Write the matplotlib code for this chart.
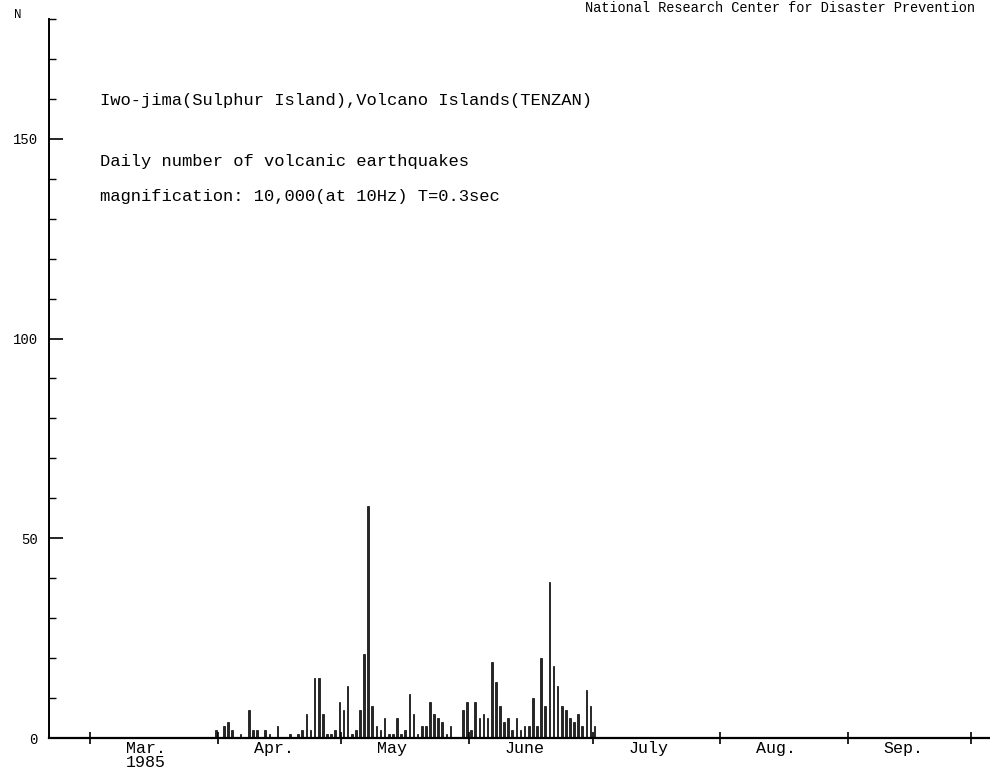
import numpy as np
import matplotlib
matplotlib.use("Agg")
import matplotlib.pyplot as plt

# ==========================================================
# Data : daily counts, 31 Mar 1985 - 1 Jul 1985
# x axis is "days since 1 Mar 1985"
# ==========================================================

FIRST_DAY = 30          # 31 Mar

daily_counts = [
    2, 0, 3, 4, 2, 0, 1, 0, 7, 2,
    2, 0, 2, 1, 0, 3, 0, 0, 1, 0,
    1, 2, 6, 2, 15, 15, 6, 1, 1, 2,
    9, 7, 13, 1, 2, 7, 21, 58, 8, 3,
    2, 5, 1, 1, 5, 1, 2, 11, 6, 1,
    3, 3, 9, 6, 5, 4, 1, 3, 0, 0,
    7, 9, 2, 9, 5, 6, 5, 19, 14, 8,
    4, 5, 2, 5, 2, 3, 3, 10, 3, 20,
    8, 39, 18, 13, 8, 7, 5, 4, 6, 3,
    12, 8, 3,
]

month_starts = [0, 31, 61, 92, 122, 153, 184, 214]
month_names = ["Mar.", "Apr.", "May", "June", "July", "Aug.", "Sep."]

y_major = [0, 50, 100, 150]

title_lines = [
    "Iwo-jima(Sulphur Island),Volcano Islands(TENZAN)",
    "Daily number of volcanic earthquakes",
    "magnification: 10,000(at 10Hz) T=0.3sec",
]

FONT = "Liberation Mono"

# ==========================================================
# Figure
# ==========================================================

fig = plt.figure(figsize=(9.9, 7.78), dpi=100)
ax = fig.add_axes([0.0495, 0.0514, 0.9505, 0.9242])

days = FIRST_DAY + np.arange(len(daily_counts)) + 0.5

ax.bar(days, daily_counts, width=0.4, color="0.15",
       edgecolor="black", linewidth=0.5)

ax.set_xlim(-10, 218.5)
ax.set_ylim(0, 180)

# ==========================================================
# Axes styling
# ==========================================================

for side in ["top", "right"]:
    ax.spines[side].set_visible(False)
ax.spines["left"].set_linewidth(1.4)
ax.spines["bottom"].set_linewidth(1.6)

ax.set_yticks(y_major)
ax.set_yticks(np.arange(10, 181, 10), minor=True)
ax.tick_params(axis="y", which="major", direction="in", length=10,
               width=1.2, pad=8, labelsize=10)
ax.tick_params(axis="y", which="minor", direction="in", length=5,
               width=1.0)
for lab in ax.get_yticklabels():
    lab.set_family(FONT)

ax.set_xticks(month_starts)
ax.set_xticklabels([])
ax.tick_params(axis="x", which="major", direction="inout", length=9,
               width=1.2)

# month names sit a little right of each month start
for start, name in zip(month_starts, month_names):
    ax.text(start + 8.7, -0.8, name, ha="left", va="top",
            fontsize=12, family=FONT, clip_on=False)

ax.text(month_starts[0] + 8.7, -4.3, "1985", ha="left", va="top",
        fontsize=12, family=FONT, clip_on=False)

# ==========================================================
# Annotations
# ==========================================================

fig.text(14 / 990, 1 - 15 / 778, "N", ha="left", va="center",
         fontsize=9, family=FONT)

ax.text(2.5, 159.5, title_lines[0], ha="left", va="center",
        fontsize=12.3, family=FONT)
ax.text(2.5, 144.3, title_lines[1], ha="left", va="center",
        fontsize=12.3, family=FONT)
ax.text(2.5, 135.5, title_lines[2], ha="left", va="center",
        fontsize=12.3, family=FONT)

fig.text(585 / 990, 1 - 8 / 778,
         "National Research Center for Disaster Prevention",
         ha="left", va="center", fontsize=9.8, family=FONT)

fig.savefig("out.png", dpi=100, facecolor="white")
